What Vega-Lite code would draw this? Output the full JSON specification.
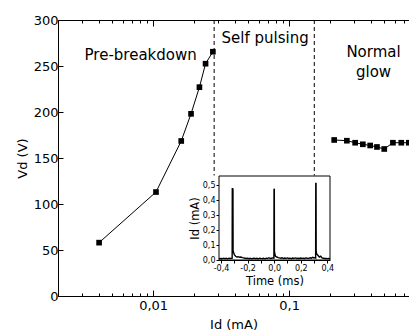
{
  "$schema": "https://vega.github.io/schema/vega-lite/v6.json",
  "width": 351,
  "height": 276,
  "autosize": {"type": "none"},
  "padding": {"left": 58, "top": 20, "right": 0, "bottom": 39},
  "config": {
    "font": "DejaVu Sans",
    "view": {"stroke": null},
    "axis": {"domainColor": "black", "tickColor": "black", "labelColor": "black", "titleColor": "black", "grid": false, "titleFontWeight": "normal", "labelFont": "DejaVu Sans", "titleFont": "DejaVu Sans"}
  },
  "layer": [
    {
      "layer": [
        {
          "layer": [
            {
              "data": {"values": [{"I": 0.0281, "top": 300, "bottom": 131}, {"I": 0.153, "top": 300, "bottom": 131}]},
              "mark": {"type": "rule", "color": "black", "strokeWidth": 1, "strokeDash": [4, 3]},
              "encoding": {
                "x": {"field": "I", "type": "quantitative",
                  "scale": {"type": "log", "domain": [0.002, 0.76], "nice": false},
                  "axis": {"orient": "bottom", "title": "Id (mA)",
                    "values": [0.002,0.003,0.004,0.005,0.006,0.007,0.008,0.009,0.01,0.02,0.03,0.04,0.05,0.06,0.07,0.08,0.09,0.1,0.2,0.3,0.4,0.5,0.6,0.7],
                    "labelExpr": "datum.value == 0.01 ? '0,01' : (datum.value == 0.1 ? '0,1' : '')",
                    "tickSize": {"condition": {"test": "datum.value == 0.01 || datum.value == 0.1", "value": -6}, "value": -3},
                    "labelFontSize": 13, "labelPadding": 9, "titleFontSize": 13, "titlePadding": 3, "labelOverlap": false, "labelFlush": false}},
                "y": {"field": "top", "type": "quantitative",
                  "scale": {"domain": [0, 300], "nice": false},
                  "axis": {"orient": "left", "title": "Vd (V)", "values": [0, 50, 100, 150, 200, 250, 300],
                    "tickSize": -5, "labelFontSize": 13, "labelPadding": 5, "titleFontSize": 13, "titlePadding": 4, "labelOverlap": false}},
                "y2": {"field": "bottom"}
              }
            },
            {
              "data": {"name": "series"},
              "mark": {"type": "line", "color": "black", "strokeWidth": 1},
              "encoding": {
                "x": {"field": "I", "type": "quantitative"},
                "y": {"field": "V", "type": "quantitative"},
                "detail": {"field": "regime"}
              }
            },
            {
              "data": {"name": "series"},
              "mark": {"type": "point", "shape": "square", "filled": true, "color": "black", "size": 32, "opacity": 1},
              "encoding": {
                "x": {"field": "I", "type": "quantitative"},
                "y": {"field": "V", "type": "quantitative"}
              }
            },
            {
              "data": {"values": [
                {"I": 0.0081, "V": 257, "label": "Pre-breakdown"},
                {"I": 0.0666, "V": 275.5, "label": "Self pulsing"},
                {"I": 0.417, "V": 260, "label": "Normal"},
                {"I": 0.417, "V": 238.5, "label": "glow"}
              ]},
              "mark": {"type": "text", "align": "center", "baseline": "alphabetic", "fontSize": 15, "color": "black", "font": "DejaVu Sans"},
              "encoding": {
                "x": {"field": "I", "type": "quantitative"},
                "y": {"field": "V", "type": "quantitative"},
                "text": {"field": "label"}
              }
            }
          ]
        },
        {
          "data": {"values": [{"I": 0.01}]},
          "mark": {"type": "rule", "opacity": 0},
          "encoding": {
            "x": {"field": "I", "type": "quantitative",
              "axis": {"orient": "top", "title": null, "labels": false,
                "values": [0.002,0.003,0.004,0.005,0.006,0.007,0.008,0.009,0.01,0.02,0.03,0.04,0.05,0.06,0.07,0.08,0.09,0.1,0.2,0.3,0.4,0.5,0.6,0.7],
                "tickSize": {"condition": {"test": "datum.value == 0.01 || datum.value == 0.1", "value": -6}, "value": -3}}}
          }
        }
      ],
      "resolve": {"axis": {"x": "independent"}}
    },
    {
      "layer": [
        {
          "data": {"values": [{"t0": -0.415, "t1": 0.42, "y0": 0, "y1": 0.56}]},
          "mark": {"type": "rect", "fill": "white", "stroke": "black", "strokeWidth": 1},
          "encoding": {
            "x": {"field": "t0", "type": "quantitative",
              "scale": {"domain": [-0.415, 0.42], "range": [161, 272], "nice": false, "zero": false},
              "axis": {"orient": "bottom", "offset": -36, "title": "Time (ms)",
                "values": [-0.4,-0.3,-0.2,-0.1,0,0.1,0.2,0.3,0.4],
                "labelExpr": "abs(round(datum.value*10)) % 2 == 0 ? replace(replace(format(datum.value, '.1f'), '.', ','), '−', '-') : ''",
                "tickSize": 3, "labelFontSize": 8, "labelPadding": 1, "titleFontSize": 11.5, "titlePadding": 3, "labelOverlap": false, "labelFlush": false}},
            "x2": {"field": "t1"},
            "y": {"field": "y0", "type": "quantitative",
              "scale": {"domain": [0, 0.56], "range": [240, 156], "nice": false},
              "axis": {"orient": "left", "offset": -161, "title": "Id (mA)",
                "values": [0, 0.1, 0.2, 0.3, 0.4, 0.5],
                "labelExpr": "replace(format(datum.value, '.1f'), '.', ',')",
                "tickSize": 3, "labelFontSize": 8, "labelPadding": 1, "titleFontSize": 11.5, "titlePadding": 2, "labelOverlap": false, "labelFlush": false}},
            "y2": {"field": "y1"}
          }
        },
        {
          "data": {"name": "pulses"},
          "mark": {"type": "line", "color": "black", "strokeWidth": 1.4},
          "encoding": {
            "x": {"field": "t", "type": "quantitative"},
            "y": {"field": "id", "type": "quantitative"}
          }
        }
      ]
    }
  ],
  "resolve": {"scale": {"x": "independent", "y": "independent"}, "axis": {"x": "independent", "y": "independent"}},
  "datasets": {
    "series": [
      {"regime": "pre", "I": 0.00401, "V": 58},
      {"regime": "pre", "I": 0.0105, "V": 113},
      {"regime": "pre", "I": 0.0161, "V": 168.5},
      {"regime": "pre", "I": 0.019, "V": 198},
      {"regime": "pre", "I": 0.0219, "V": 227},
      {"regime": "pre", "I": 0.0243, "V": 252.5},
      {"regime": "pre", "I": 0.0275, "V": 265.5},
      {"regime": "glow", "I": 0.2143, "V": 169.6},
      {"regime": "glow", "I": 0.2655, "V": 168.8},
      {"regime": "glow", "I": 0.3055, "V": 166.6},
      {"regime": "glow", "I": 0.348, "V": 164.9},
      {"regime": "glow", "I": 0.394, "V": 163.6},
      {"regime": "glow", "I": 0.442, "V": 162},
      {"regime": "glow", "I": 0.5, "V": 159.8},
      {"regime": "glow", "I": 0.579, "V": 166.6},
      {"regime": "glow", "I": 0.667, "V": 166.6},
      {"regime": "glow", "I": 0.757, "V": 166.6}
    ],
    "pulses": [
      {"t": -0.415, "id": 0.008}, {"t": -0.40, "id": 0.010}, {"t": -0.39, "id": 0.008}, {"t": -0.38, "id": 0.012},
      {"t": -0.37, "id": 0.009}, {"t": -0.36, "id": 0.011}, {"t": -0.35, "id": 0.008}, {"t": -0.34, "id": 0.012},
      {"t": -0.33, "id": 0.010}, {"t": -0.32, "id": 0.011}, {"t": -0.316, "id": 0.012}, {"t": -0.315, "id": 0.48},
      {"t": -0.313, "id": 0.15}, {"t": -0.312, "id": 0.48}, {"t": -0.310, "id": 0.47}, {"t": -0.309, "id": 0.06},
      {"t": -0.305, "id": 0.05}, {"t": -0.30, "id": 0.035}, {"t": -0.29, "id": 0.025}, {"t": -0.28, "id": 0.02},
      {"t": -0.27, "id": 0.022}, {"t": -0.26, "id": 0.018}, {"t": -0.25, "id": 0.02}, {"t": -0.24, "id": 0.016},
      {"t": -0.23, "id": 0.014}, {"t": -0.22, "id": 0.012}, {"t": -0.21, "id": 0.010}, {"t": -0.20, "id": 0.012},
      {"t": -0.19, "id": 0.009}, {"t": -0.18, "id": 0.011}, {"t": -0.17, "id": 0.008}, {"t": -0.16, "id": 0.010},
      {"t": -0.15, "id": 0.012}, {"t": -0.14, "id": 0.009}, {"t": -0.13, "id": 0.011}, {"t": -0.12, "id": 0.008},
      {"t": -0.11, "id": 0.012}, {"t": -0.10, "id": 0.010}, {"t": -0.09, "id": 0.009}, {"t": -0.08, "id": 0.011},
      {"t": -0.07, "id": 0.008}, {"t": -0.06, "id": 0.012}, {"t": -0.05, "id": 0.010}, {"t": -0.04, "id": 0.015},
      {"t": -0.03, "id": 0.010}, {"t": -0.02, "id": 0.012}, {"t": -0.01, "id": 0.014}, {"t": -0.002, "id": 0.012},
      {"t": -0.001, "id": 0.475}, {"t": 0.001, "id": 0.47}, {"t": 0.002, "id": 0.06}, {"t": 0.005, "id": 0.04},
      {"t": 0.01, "id": 0.025}, {"t": 0.02, "id": 0.02}, {"t": 0.03, "id": 0.016}, {"t": 0.04, "id": 0.014},
      {"t": 0.05, "id": 0.012}, {"t": 0.06, "id": 0.015}, {"t": 0.07, "id": 0.010}, {"t": 0.08, "id": 0.013},
      {"t": 0.09, "id": 0.011}, {"t": 0.10, "id": 0.014}, {"t": 0.11, "id": 0.010}, {"t": 0.12, "id": 0.012},
      {"t": 0.13, "id": 0.009}, {"t": 0.14, "id": 0.013}, {"t": 0.15, "id": 0.011}, {"t": 0.16, "id": 0.014},
      {"t": 0.17, "id": 0.010}, {"t": 0.18, "id": 0.012}, {"t": 0.19, "id": 0.010}, {"t": 0.20, "id": 0.013},
      {"t": 0.21, "id": 0.011}, {"t": 0.22, "id": 0.012}, {"t": 0.23, "id": 0.010}, {"t": 0.24, "id": 0.014},
      {"t": 0.25, "id": 0.012}, {"t": 0.26, "id": 0.011}, {"t": 0.27, "id": 0.015}, {"t": 0.28, "id": 0.012},
      {"t": 0.29, "id": 0.018}, {"t": 0.30, "id": 0.014}, {"t": 0.31, "id": 0.016}, {"t": 0.312, "id": 0.014},
      {"t": 0.313, "id": 0.51}, {"t": 0.315, "id": 0.51}, {"t": 0.316, "id": 0.06}, {"t": 0.32, "id": 0.04},
      {"t": 0.33, "id": 0.03}, {"t": 0.34, "id": 0.02}, {"t": 0.35, "id": 0.025}, {"t": 0.36, "id": 0.014},
      {"t": 0.37, "id": 0.012}, {"t": 0.38, "id": 0.010}, {"t": 0.39, "id": 0.011}, {"t": 0.40, "id": 0.009},
      {"t": 0.41, "id": 0.010}, {"t": 0.42, "id": 0.008}
    ]
  }
}
